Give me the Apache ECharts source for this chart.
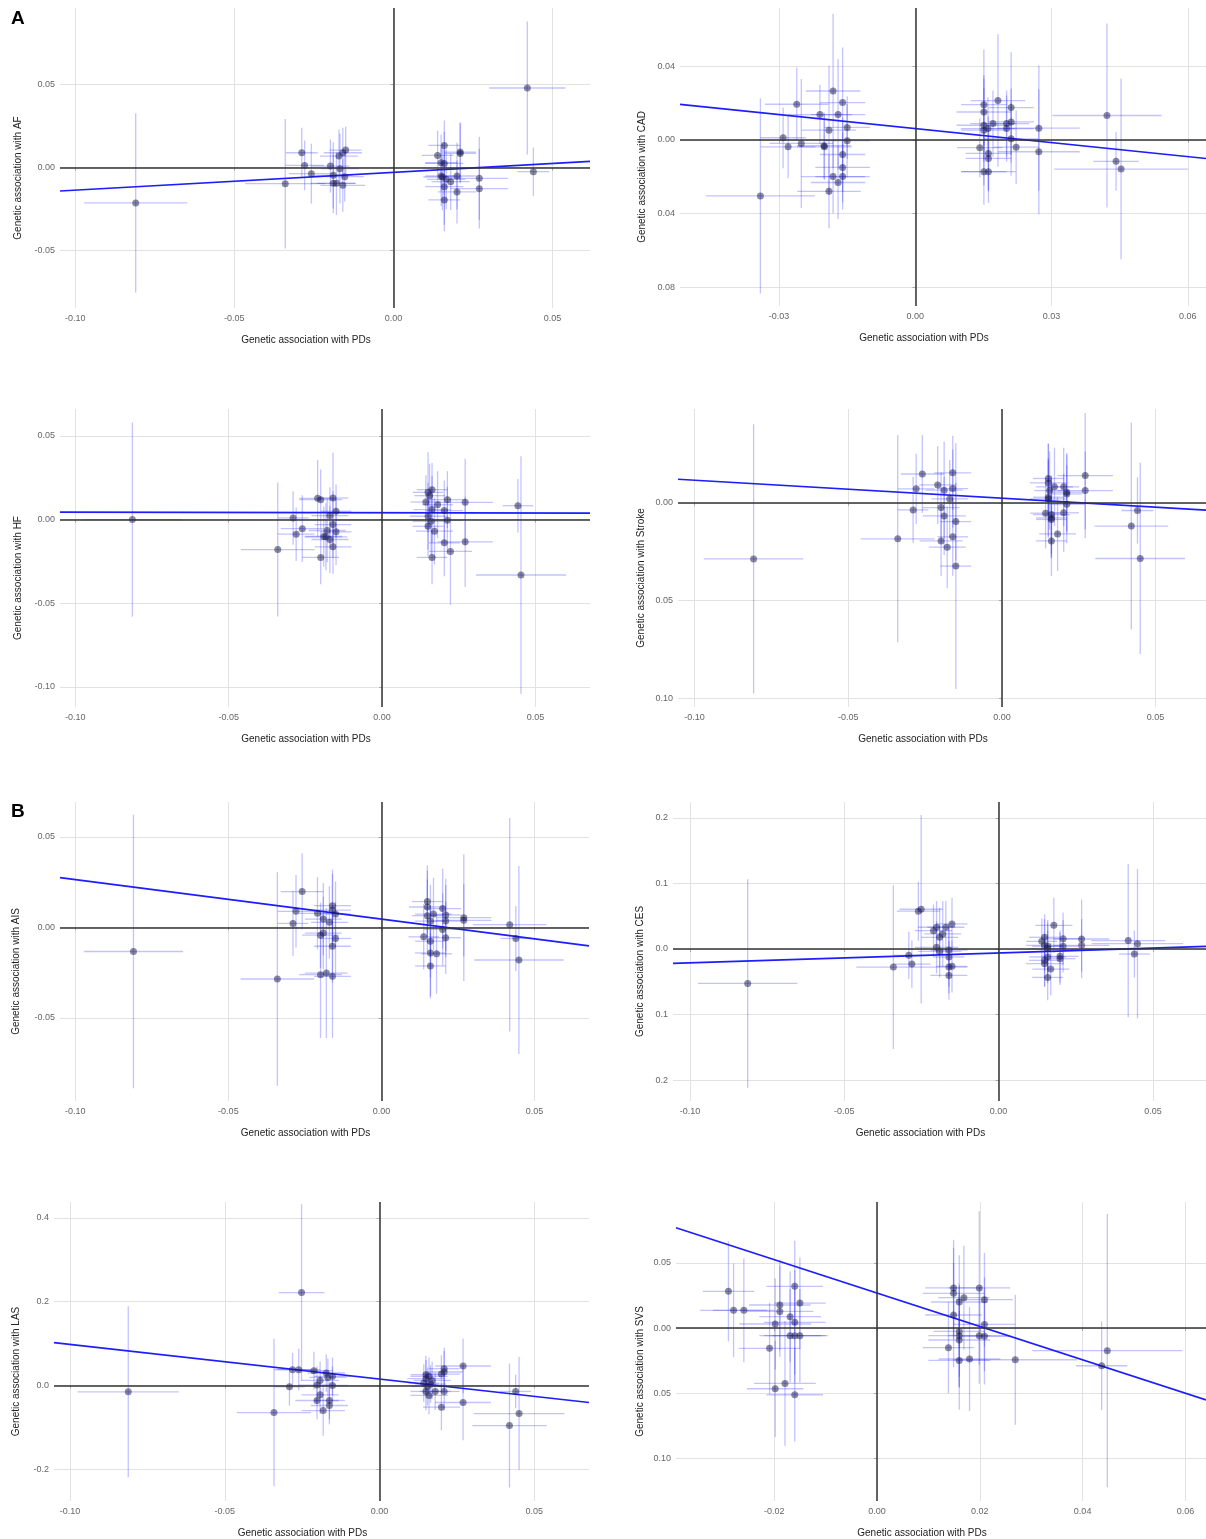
<!DOCTYPE html>
<html><head><meta charset="utf-8">
<script src="https://cdn.jsdelivr.net/npm/echarts@6/dist/echarts.min.js"></script>
<style>html,body{margin:0;padding:0;background:#fff}#c{width:1206px;height:1539px}</style>
</head><body><div id="c"></div>
<script>
// ---------- DATA ----------
// x = genetic association with PDs, y = genetic association with outcome, ex/ey = error-bar half widths
const AF_x  = [-0.081,-0.034,-0.0288,-0.0279,-0.0258,-0.0198,-0.0189,-0.0189,-0.0179,-0.0171,-0.0168,-0.0159,-0.0159,-0.015,-0.0153,0.0139,0.015,0.016,0.016,0.015,0.0154,0.016,0.016,0.0166,0.018,0.020,0.020,0.021,0.021,0.027,0.027,0.0421,0.044];
const AF_y  = [-0.0212,-0.0096,0.009,0.0014,-0.0036,0.001,-0.0046,-0.0094,-0.0094,0.007,-0.0006,0.009,-0.0106,0.0106,-0.0054,0.0074,0.003,0.0134,0.0026,-0.005,-0.0056,-0.0114,-0.0194,-0.007,-0.0084,-0.005,-0.0146,0.0094,0.0086,-0.0064,-0.0126,0.048,-0.0024];
const AF_ex = [0.0162,0.0126,0.005,0.006,0.007,0.006,0.006,0.007,0.006,0.006,0.006,0.006,0.007,0.005,0.006,0.005,0.005,0.005,0.006,0.005,0.006,0.006,0.005,0.006,0.006,0.006,0.006,0.005,0.005,0.009,0.009,0.012,0.005];
const AF_ey = [0.054,0.039,0.015,0.015,0.018,0.016,0.02,0.018,0.019,0.016,0.021,0.015,0.016,0.014,0.015,0.015,0.017,0.015,0.019,0.018,0.02,0.023,0.019,0.018,0.017,0.02,0.019,0.018,0.018,0.025,0.024,0.04,0.0145];

const CAD_x  = [-0.0341,-0.0291,-0.028,-0.0261,-0.0251,-0.021,-0.0201,-0.02,-0.019,-0.019,-0.0181,-0.0181,-0.017,-0.017,-0.016,-0.016,-0.016,-0.016,-0.015,-0.015,0.0142,0.0151,0.0151,0.0151,0.0151,0.0151,0.016,0.0161,0.0161,0.0161,0.0171,0.0182,0.0201,0.0201,0.0211,0.0211,0.0211,0.0222,0.0272,0.0272,0.0422,0.0442,0.0453];
const CAD_y  = [-0.0305,0.0011,-0.0038,0.0193,-0.002,0.0137,-0.0032,-0.0038,0.0052,-0.028,0.0265,-0.02,0.0137,-0.0232,0.0202,-0.008,-0.015,-0.02,0.0067,-0.0005,-0.0043,0.0191,0.0151,0.0079,0.0052,-0.0173,0.0061,-0.0074,-0.0101,-0.0173,0.0088,0.0213,0.0088,0.0061,0.0175,0.0097,0.0005,-0.004,0.0063,-0.0065,0.0132,-0.0117,-0.0159];
const CAD_ex = [0.012,0.005,0.006,0.007,0.007,0.007,0.006,0.006,0.006,0.007,0.006,0.007,0.006,0.006,0.005,0.005,0.006,0.006,0.005,0.005,0.005,0.005,0.006,0.006,0.005,0.005,0.006,0.005,0.005,0.006,0.005,0.006,0.005,0.006,0.005,0.005,0.006,0.005,0.009,0.009,0.012,0.005,0.0147];
const CAD_ey = [0.053,0.0165,0.017,0.02,0.035,0.016,0.018,0.018,0.035,0.02,0.042,0.02,0.03,0.02,0.03,0.02,0.019,0.018,0.017,0.02,0.016,0.03,0.018,0.02,0.03,0.018,0.017,0.02,0.018,0.017,0.018,0.036,0.018,0.018,0.03,0.018,0.02,0.02,0.034,0.034,0.05,0.016,0.049];

const HF_x  = [-0.0814,-0.034,-0.029,-0.028,-0.026,-0.021,-0.020,-0.020,-0.019,-0.0183,-0.0179,-0.017,-0.017,-0.016,-0.016,-0.016,-0.015,-0.015,0.0143,0.015,0.015,0.015,0.0155,0.0163,0.0163,0.016,0.0163,0.0171,0.0181,0.0203,0.0203,0.0213,0.0213,0.0223,0.0271,0.0271,0.0443,0.0453];
const HF_y  = [0,-0.0179,0.001,-0.0087,-0.0054,0.0127,0.0119,-0.0226,-0.0101,-0.0103,-0.0065,0.0024,-0.0119,0.0129,-0.003,-0.0163,0.005,-0.0073,0.0105,0.0163,0.002,-0.004,0.0143,0.0179,0.006,-0.001,-0.0226,-0.0069,0.0089,0.0054,-0.0139,0.0119,-0.0004,-0.019,0.0103,-0.0133,0.0083,-0.0331];
const HF_ex = [0.016,0.012,0.005,0.006,0.007,0.006,0.007,0.006,0.006,0.007,0.006,0.006,0.006,0.005,0.006,0.006,0.005,0.005,0.005,0.005,0.006,0.005,0.005,0.005,0.006,0.006,0.005,0.006,0.005,0.006,0.005,0.006,0.005,0.007,0.009,0.009,0.005,0.0147];
const HF_ey = [0.058,0.04,0.016,0.016,0.02,0.023,0.018,0.016,0.018,0.02,0.019,0.017,0.02,0.027,0.02,0.016,0.016,0.02,0.016,0.024,0.02,0.018,0.019,0.016,0.02,0.02,0.016,0.02,0.02,0.018,0.02,0.017,0.02,0.032,0.026,0.027,0.016,0.071];

const STROKE_x  = [-0.0808,-0.0339,-0.0289,-0.0279,-0.0259,-0.0209,-0.0198,-0.0198,-0.0188,-0.0188,-0.0178,-0.017,-0.016,-0.016,-0.016,-0.015,-0.015,0.0142,0.0151,0.0151,0.0151,0.0151,0.0155,0.0161,0.0161,0.0161,0.0161,0.0171,0.0181,0.0201,0.0201,0.0211,0.0211,0.0211,0.0271,0.0271,0.0421,0.0441,0.045];
const STROKE_y  = [-0.0287,-0.0184,-0.0036,0.0072,0.0148,0.0092,-0.0024,-0.0195,0.0065,-0.0067,-0.0227,0.002,0.0154,0.0073,-0.0174,-0.0096,-0.0324,-0.0053,0.0125,0.0102,0.0029,0.002,0.0063,-0.006,-0.0077,-0.0085,-0.0195,0.0082,-0.0159,0.0082,-0.0051,0.0055,0.0046,-0.0007,0.014,0.0063,-0.0119,-0.0039,-0.0285];
const STROKE_ex = [0.0162,0.012,0.005,0.006,0.007,0.006,0.006,0.007,0.006,0.007,0.006,0.006,0.006,0.005,0.005,0.005,0.005,0.005,0.005,0.006,0.005,0.006,0.005,0.006,0.005,0.005,0.005,0.006,0.006,0.005,0.005,0.005,0.005,0.006,0.009,0.009,0.012,0.0052,0.0146];
const STROKE_ey = [0.069,0.053,0.017,0.018,0.02,0.02,0.018,0.018,0.025,0.02,0.021,0.02,0.019,0.02,0.02,0.02,0.063,0.018,0.018,0.02,0.02,0.02,0.02,0.02,0.02,0.02,0.018,0.02,0.019,0.02,0.02,0.02,0.02,0.02,0.032,0.02,0.053,0.017,0.049];

const AIS_x  = [-0.081,-0.034,-0.0289,-0.0279,-0.0259,-0.0209,-0.0199,-0.0199,-0.019,-0.019,-0.018,-0.017,-0.016,-0.016,-0.016,-0.016,-0.015,-0.015,0.0138,0.015,0.015,0.015,0.016,0.016,0.016,0.016,0.017,0.018,0.02,0.02,0.021,0.021,0.021,0.0269,0.0269,0.0419,0.0439,0.0449];
const AIS_y  = [-0.0133,-0.0285,0.0022,0.0089,0.0198,0.0078,-0.0043,-0.0261,0.0046,-0.0031,-0.0252,0.0028,0.012,0.0096,-0.0104,-0.027,0.0074,-0.0061,-0.0052,0.0143,0.0113,0.0065,0.0035,-0.0076,-0.0141,-0.0213,0.0074,-0.0146,0.0104,-0.0011,0.0069,0.0035,-0.0057,0.0054,0.0039,0.0015,-0.0061,-0.018];
const AIS_ex = [0.0162,0.012,0.005,0.006,0.007,0.006,0.006,0.007,0.006,0.006,0.007,0.006,0.006,0.006,0.006,0.006,0.005,0.005,0.005,0.005,0.006,0.005,0.005,0.005,0.005,0.005,0.006,0.005,0.006,0.006,0.005,0.005,0.005,0.009,0.009,0.012,0.005,0.0146];
const AIS_ey = [0.0755,0.059,0.018,0.02,0.021,0.02,0.018,0.035,0.02,0.02,0.036,0.02,0.02,0.02,0.02,0.034,0.018,0.02,0.018,0.02,0.02,0.02,0.02,0.02,0.024,0.018,0.02,0.022,0.022,0.02,0.02,0.02,0.02,0.035,0.02,0.059,0.018,0.052];

const CES_x  = [-0.0813,-0.0341,-0.0291,-0.0281,-0.026,-0.0251,-0.0211,-0.0201,-0.0201,-0.0191,-0.0181,-0.0191,-0.0171,-0.0161,-0.0161,-0.0161,-0.0161,-0.0151,-0.0151,0.014,0.0149,0.0149,0.0149,0.0149,0.0159,0.0159,0.0159,0.0159,0.0169,0.0179,0.0199,0.0199,0.0209,0.0209,0.0269,0.0269,0.042,0.044,0.045];
const CES_y  = [-0.0526,-0.0276,-0.0097,-0.023,0.0577,0.0607,0.028,0.0332,0.0026,0.0179,0.023,-0.0036,0.0332,-0.0015,-0.0122,-0.0276,-0.0403,0.0383,-0.0265,0.0117,0.0179,0.0056,-0.0173,-0.0224,0.0041,0.0005,-0.0122,-0.0434,-0.0306,0.0362,-0.0112,-0.0148,0.0158,0.0041,0.0153,0.0056,0.0128,-0.0077,0.0082];
const CES_ex = [0.0161,0.012,0.005,0.006,0.007,0.007,0.006,0.006,0.007,0.006,0.006,0.007,0.006,0.006,0.005,0.006,0.006,0.005,0.005,0.005,0.005,0.006,0.005,0.006,0.005,0.006,0.006,0.005,0.006,0.006,0.006,0.005,0.006,0.005,0.009,0.009,0.012,0.005,0.0148];
const CES_ey = [0.159,0.125,0.036,0.036,0.045,0.144,0.04,0.04,0.04,0.045,0.05,0.04,0.04,0.04,0.045,0.04,0.037,0.04,0.04,0.035,0.035,0.04,0.04,0.035,0.04,0.04,0.04,0.035,0.04,0.042,0.04,0.04,0.04,0.04,0.06,0.04,0.117,0.036,0.114];

const LAS_x  = [-0.0812,-0.0341,-0.0291,-0.0281,-0.0261,-0.0252,-0.0212,-0.0202,-0.0202,-0.0192,-0.0192,-0.0182,-0.0172,-0.0167,-0.0162,-0.0162,-0.0152,-0.0152,0.0143,0.015,0.015,0.015,0.0155,0.016,0.016,0.0165,0.017,0.018,0.02,0.02,0.0209,0.0209,0.0209,0.027,0.027,0.042,0.044,0.0451];
const LAS_y  = [-0.0152,-0.0648,-0.0032,0.0376,0.0376,0.2216,0.0352,0.0008,-0.036,0.012,-0.0224,-0.06,0.0296,0.0192,-0.036,-0.048,0.0216,0,0.0056,0.0256,0.016,-0.0144,-0.0024,0.0216,-0.024,0.0032,0.012,-0.0144,0.0272,-0.052,0.04,0.032,-0.0144,0.0464,-0.0408,-0.096,-0.0144,-0.0672];
const LAS_ex = [0.0163,0.012,0.005,0.006,0.007,0.0074,0.006,0.006,0.007,0.006,0.006,0.007,0.006,0.006,0.005,0.006,0.006,0.005,0.005,0.005,0.006,0.005,0.005,0.006,0.006,0.005,0.006,0.005,0.006,0.006,0.005,0.006,0.005,0.009,0.009,0.012,0.005,0.0147];
const LAS_ey = [0.204,0.176,0.045,0.04,0.05,0.211,0.045,0.045,0.045,0.045,0.045,0.06,0.045,0.045,0.045,0.045,0.045,0.045,0.045,0.045,0.045,0.045,0.045,0.045,0.045,0.045,0.045,0.045,0.045,0.055,0.05,0.05,0.045,0.065,0.09,0.148,0.04,0.135];

const SVS_x  = [-0.0289,-0.0279,-0.0259,-0.0209,-0.0198,-0.0198,-0.0189,-0.0189,-0.0179,-0.0169,-0.0169,-0.016,-0.016,-0.016,-0.016,-0.015,-0.015,0.0139,0.0149,0.0149,0.0149,0.016,0.016,0.016,0.016,0.016,0.0169,0.018,0.0199,0.0199,0.0209,0.0209,0.0209,0.0269,0.0437,0.0448];
const SVS_y  = [0.0282,0.0136,0.0136,-0.0156,0.0031,-0.0467,0.0177,0.0128,-0.0426,0.0087,-0.0059,0.0321,0.0044,-0.0059,-0.0513,0.0192,-0.0059,-0.0151,0.0308,0.0267,0.01,0.02,-0.0026,-0.0059,-0.0092,-0.0249,0.0233,-0.0238,0.0308,-0.0059,0.0218,0.0028,-0.0064,-0.0244,-0.029,-0.0174];
const SVS_ex = [0.005,0.0065,0.006,0.006,0.007,0.0055,0.006,0.0065,0.006,0.006,0.006,0.0055,0.006,0.006,0.0055,0.005,0.0055,0.005,0.0055,0.006,0.0055,0.0055,0.005,0.006,0.006,0.006,0.005,0.006,0.006,0.006,0.0055,0.006,0.005,0.012,0.005,0.0146];
const SVS_ey = [0.0385,0.036,0.04,0.035,0.035,0.037,0.035,0.035,0.048,0.035,0.036,0.035,0.04,0.036,0.036,0.035,0.036,0.035,0.037,0.035,0.04,0.036,0.035,0.04,0.036,0.038,0.04,0.04,0.059,0.037,0.036,0.036,0.037,0.05,0.034,0.105];

// regression lines: [slope, intercept]
const FIT_AF = [0.107, -0.0028];
const FIT_CAD = [-0.254, 0.0061];
const FIT_HF = [-0.004, 0.0041];
const FIT_STROKE = [-0.092, 0.0024];
const FIT_AIS = [-0.218, 0.0046];
const FIT_CES = [0.151, -0.0061];
const FIT_LAS = [-0.828, 0.0152];
const FIT_SVS = [-1.283, 0.0269];

// tick values
const XT_PD = [-0.10, -0.05, 0, 0.05];
const XT_CAD = [-0.03, 0, 0.03, 0.06];
const XT_SVS = [-0.02, 0, 0.02, 0.04, 0.06];
const YT_AF = [-0.05, 0, 0.05];
const YT_CAD = [-0.08, -0.04, 0, 0.04];
const YT_HF = [-0.10, -0.05, 0, 0.05];
const YT_STROKE = [-0.10, -0.05, 0];
const YT_AIS = [-0.05, 0, 0.05];
const YT_CES = [-0.2, -0.1, 0, 0.1, 0.2];
const YT_LAS = [-0.2, 0, 0.2, 0.4];
const YT_SVS = [-0.10, -0.05, 0, 0.05];

const XNAME = 'Genetic association with PDs';

// ---------- layout ----------
const panels = [
 {name:'AF', x:AF_x, y:AF_y, ex:AF_ex, ey:AF_ey, fit:FIT_AF, g:[60,8,530,300], xr:[-0.1048,0.0618], yr:[-0.0845,0.0962], xt:XT_PD, yt:YT_AF, xd:2, yd:2, abs:false, ygap:37},
 {name:'CAD', x:CAD_x, y:CAD_y, ex:CAD_ex, ey:CAD_ey, fit:FIT_CAD, g:[680,8,526,298], xr:[-0.0518,0.064], yr:[-0.0903,0.0716], xt:XT_CAD, yt:YT_CAD, xd:2, yd:2, abs:true, ygap:33},
 {name:'HF', x:HF_x, y:HF_y, ex:HF_ex, ey:HF_ey, fit:FIT_HF, g:[60,409,530,298], xr:[-0.105,0.0678], yr:[-0.112,0.0661], xt:XT_PD, yt:YT_HF, xd:2, yd:2, abs:false, ygap:37},
 {name:'Stroke', x:STROKE_x, y:STROKE_y, ex:STROKE_ex, ey:STROKE_ey, fit:FIT_STROKE, g:[678,409,528,298], xr:[-0.1054,0.0664], yr:[-0.1046,0.0481], xt:XT_PD, yt:YT_STROKE, xd:2, yd:2, abs:true, ygap:32},
 {name:'AIS', x:AIS_x, y:AIS_y, ex:AIS_ex, ey:AIS_ey, fit:FIT_AIS, g:[60,802,529,299], xr:[-0.105,0.0678], yr:[-0.0959,0.0693], xt:XT_PD, yt:YT_AIS, xd:2, yd:2, abs:false, ygap:39},
 {name:'CES', x:CES_x, y:CES_y, ex:CES_ex, ey:CES_ey, fit:FIT_CES, g:[673,802,533,299], xr:[-0.1055,0.0672], yr:[-0.232,0.2244], xt:XT_PD, yt:YT_CES, xd:2, yd:1, abs:true, ygap:28},
 {name:'LAS', x:LAS_x, y:LAS_y, ex:LAS_ex, ey:LAS_ey, fit:FIT_LAS, g:[54,1202,535,299], xr:[-0.1052,0.0677], yr:[-0.276,0.438], xt:XT_PD, yt:YT_LAS, xd:2, yd:1, abs:false, ygap:33},
 {name:'SVS', x:SVS_x, y:SVS_y, ex:SVS_ex, ey:SVS_ey, fit:FIT_SVS, g:[676,1202,530,299], xr:[-0.0391,0.064], yr:[-0.133,0.0969], xt:XT_SVS, yt:YT_SVS, xd:2, yd:2, abs:true, ygap:31}
];

const FONT = "'Liberation Sans', Arial, sans-serif";
const grid = [], xAxis = [], yAxis = [], series = [];

panels.forEach((p, i) => {
  grid.push({left:p.g[0], top:p.g[1], width:p.g[2], height:p.g[3], containLabel:false});
  xAxis.push({
    type:'value', gridIndex:i, min:p.xr[0], max:p.xr[1],
    axisLine:{show:false},
    axisTick:{show:true, length:3, lineStyle:{color:'#aaa'}, customValues:p.xt},
    axisLabel:{customValues:p.xt, fontSize:9, color:'#666', fontFamily:FONT, margin:6,
      formatter:v => v.toFixed(p.xd)},
    splitLine:{show:true, lineStyle:{color:'#e2e2e2', width:1}},
    name:XNAME, nameLocation:'middle', nameGap:27,
    nameTextStyle:{fontSize:10, color:'#222', fontFamily:FONT, padding:[0,38,0,0]}
  });
  yAxis.push({
    type:'value', gridIndex:i, min:p.yr[0], max:p.yr[1],
    axisLine:{show:false},
    axisTick:{show:true, length:3, lineStyle:{color:'#aaa'}, customValues:p.yt},
    axisLabel:{customValues:p.yt, fontSize:9, color:'#666', fontFamily:FONT, margin:5,
      formatter:v => (p.abs ? Math.abs(v) : v).toFixed(p.yd)},
    splitLine:{show:true, lineStyle:{color:'#e2e2e2', width:1}},
    name:'Genetic association with ' + p.name, nameLocation:'middle', nameGap:p.ygap, nameRotate:90,
    nameTextStyle:{fontSize:10, color:'#222', fontFamily:FONT, padding:[0,40,0,0]}
  });
  // zero reference lines
  series.push({
    type:'line', xAxisIndex:i, yAxisIndex:i, data:[], z:1, silent:true,
    markLine:{silent:true, symbol:['none','none'], label:{show:false}, animation:false,
      lineStyle:{color:'#333', width:1.5, type:'solid'},
      data:[{yAxis:0}, {xAxis:0}]}
  });
  // error bars
  const eb = p.x.map((v, k) => [v, p.y[k], p.ex[k], p.ey[k]]);
  series.push({
    type:'custom', xAxisIndex:i, yAxisIndex:i, z:2, silent:true, clip:true,
    encode:{x:0, y:1},
    data:eb,
    renderItem:(params, api) => {
      const x = api.value(0), y = api.value(1), ex = api.value(2), ey = api.value(3);
      const a = api.coord([x - ex, y]), b = api.coord([x + ex, y]);
      const c = api.coord([x, y - ey]), d = api.coord([x, y + ey]);
      const st = {stroke:'rgba(40,40,255,0.28)', lineWidth:1.3};
      return {type:'group', children:[
        {type:'line', shape:{x1:a[0], y1:a[1], x2:b[0], y2:b[1]}, style:st},
        {type:'line', shape:{x1:c[0], y1:c[1], x2:d[0], y2:d[1]}, style:st}
      ]};
    }
  });
  // regression line
  const x0 = p.xr[0], x1 = p.xr[1];
  series.push({
    type:'line', xAxisIndex:i, yAxisIndex:i, z:3, silent:true, symbol:'none',
    data:[[x0, p.fit[1] + p.fit[0]*x0], [x1, p.fit[1] + p.fit[0]*x1]],
    lineStyle:{color:'#1d1dff', width:1.7}
  });
  // points
  series.push({
    type:'scatter', xAxisIndex:i, yAxisIndex:i, z:4, silent:true,
    symbolSize:7,
    itemStyle:{color:'rgba(20,20,70,0.62)'},
    data:p.x.map((v, k) => [v, p.y[k]])
  });
});

const chart = echarts.init(document.getElementById('c'), null, {renderer:'canvas'});
chart.setOption({
  animation:false,
  backgroundColor:'#fff',
  grid, xAxis, yAxis, series,
  graphic:[
    {type:'text', left:11, top:9, style:{text:'A', fontSize:19, fontWeight:'bold', fill:'#000', fontFamily:FONT}},
    {type:'text', left:11, top:802, style:{text:'B', fontSize:19, fontWeight:'bold', fill:'#000', fontFamily:FONT}}
  ]
});
</script>
</body></html>
